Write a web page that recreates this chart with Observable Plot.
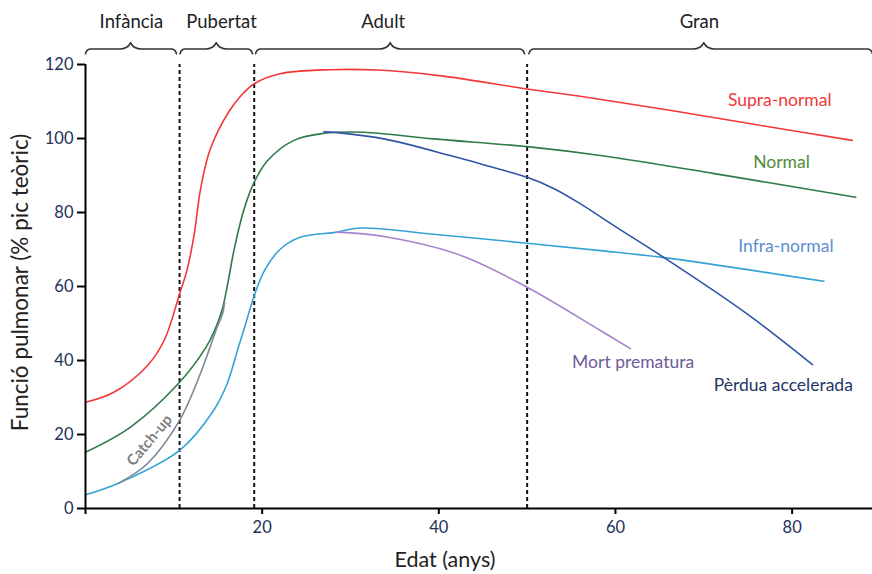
<!DOCTYPE html>
<html>
<head>
<meta charset="utf-8">
<script src="https://cdn.jsdelivr.net/npm/d3@7"></script>
<script src="https://cdn.jsdelivr.net/npm/@observablehq/plot@0.6"></script>
<style>
  html, body { margin: 0; padding: 0; background: #fff; }
  #chart svg { display: block; font-family: Lato, "Open Sans", sans-serif; }
</style>
</head>
<body>
<div id="chart"></div>
<script>
// ---- Data (age in years, lung function in % of theoretical peak) ----
const supraNormal = [[0,28.7],[3.2,31.4],[7,38.6],[8.9,45.4],[10.65,58],[11.5,64.5],[12.3,74],[13,86],[13.9,95.5],[15,102],[16.3,107.5],[17.5,111.3],[19.1,114.8],[22,117.5],[27.7,118.6],[33,118.5],[40,117],[50,113.4],[56,111.4],[67,107.3],[77,103.3],[86.8,99.5]];
const normal = [[0,15.2],[5.1,22],[10.65,34.1],[13.6,43.4],[14.6,48],[15.5,54],[16.2,62],[16.8,69.7],[17.9,80.5],[19.1,88.2],[20.6,94],[23.6,99.5],[27,101.4],[31.5,101.7],[39.4,99.9],[50,97.8],[58.3,95.4],[71.2,90.5],[87.2,84.1]];
const infraNormal = [[0,3.7],[3.8,6.9],[10.65,15.7],[14.5,26.5],[16,33.5],[17.2,42.7],[18.2,50.5],[19.1,57.5],[20.3,64.5],[22.1,70.2],[24.3,73.3],[28.5,74.7],[31,75.8],[40,74],[50,71.7],[58.3,69.7],[65.5,67.8],[83.6,61.4]];
const perduaAccelerada = [[27,101.8],[28.5,101.6],[33.8,99.9],[41.3,95.4],[47,91.6],[50,89.5],[53,86.5],[56,82.4],[60,76.2],[65.5,67.8],[74.9,52.6],[82.3,38.9]];
const mortPrematura = [[28.5,74.7],[33.8,73.5],[42.5,68.4],[50,59.8],[58.3,48.1],[61.7,43.2]];
const catchUp = [[3.8,6.9],[7,12.1],[10.65,23.8],[13,36.4],[14.9,49],[15.5,52.5],[15.75,55.8]];

const seriesNames  = ["Supra-normal","Normal","Infra-normal","Pèrdua accelerada","Mort prematura","Catch-up"];
const seriesColors = ["#f2383a","#2f7a49","#35a2d6","#2f55a6","#a684cc","#7b8794"];
const labelColors  = ["#f0383a","#4f8a3c","#5b8fd2","#1f3566","#6e5b99","#7f7f7f"];
const labelAt      = [[78.6,110.3],[78.8,93.6],[79.3,70.8],[79,33.2],[62,39.5],[7.25,18.4]];

const phases     = ["Infància","Pubertat","Adult","Gran"];
const phaseStart = [0, 10.7, 19.25, 50.2];
const phaseEnd   = [10.3, 18.9, 49.7, 89.1];
const phasePeak  = [5.1, 14.8, 34.5, 70];
const phaseLabelX = [5.2, 15.4, 33.7, 69.5];
const phaseLabelY = 131.4;
const boundaries = [10.65, 19.1, 50];

const xTicks = [0, 20, 40, 60, 80];
const yTicks = [0, 20, 40, 60, 80, 100, 120];

// ---- Build tables ----
const allSeries = [supraNormal, normal, infraNormal, perduaAccelerada, mortPrematura, catchUp];
const lineData = allSeries.flatMap((s, i) => s.map(([age, v]) => ({series: seriesNames[i], age, v})));
const labels = seriesNames.map((name, i) => ({name, x: labelAt[i][0], y: labelAt[i][1], color: labelColors[i]}));

// curly brace shape built from each phase span
const braceBase = 124.2, braceEnd = 122.9, bracePeak = 125.9;
const braceData = phases.flatMap((p, i) => {
  const a = phaseStart[i], b = phaseEnd[i], m = phasePeak[i];
  return [
    [a, braceEnd],[a+0.15, 123.7],[a+0.5, braceBase],[m-1.2, braceBase],[m-0.5, 124.6],[m-0.12, 125.4],[m, bracePeak],
    [m+0.12, 125.4],[m+0.5, 124.6],[m+1.2, braceBase],[b-0.5, braceBase],[b-0.15, 123.7],[b, braceEnd]
  ].map(([x, y]) => ({phase: p, x, y}));
});
const phaseLabels = phases.map((p, i) => ({p, x: phaseLabelX[i], y: phaseLabelY}));

const chart = Plot.plot({
  width: 872,
  height: 574,
  marginTop: 64,
  marginBottom: 66,
  marginLeft: 85,
  marginRight: 0,
  style: {fontFamily: "Lato, 'Open Sans', sans-serif", background: "#fff"},
  x: {domain: [0, 89.1]},
  y: {domain: [0, 120]},
  color: {domain: seriesNames, range: seriesColors},
  marks: [
    Plot.ruleX(boundaries, {y1: 0, y2: 120, stroke: "#111", strokeWidth: 2, strokeDasharray: "4,3"}),
    Plot.line(lineData, {x: "age", y: "v", z: "series", stroke: "series", strokeWidth: 1.6, curve: "catmull-rom"}),
    Plot.line(braceData, {x: "x", y: "y", z: "phase", stroke: "#333", strokeWidth: 1.6, curve: "monotone-x"}),
    Plot.text(phaseLabels, {x: "x", y: "y", text: "p", fontSize: 18.5, fill: "#222"}),
    Plot.text(labels.slice(0, 5), {x: "x", y: "y", text: "name", fill: "color", fontSize: 17.5}),
    Plot.text(labels.slice(5), {x: "x", y: "y", text: "name", fill: "color", fontSize: 15, fontWeight: "bold", rotate: -50}),
    Plot.axisX({ticks: xTicks, tickSize: 6, tickPadding: 7, fontSize: 16.5, stroke: "#000", strokeWidth: 2, fill: "#24305a", tickFormat: d => d === 0 ? "" : d, label: null}),
    Plot.axisY({ticks: yTicks, tickSize: 8, tickPadding: 4, fontSize: 16.5, stroke: "#000", strokeWidth: 2, fill: "#24305a", label: null}),
    Plot.ruleX([0], {y1: 0, y2: 120, stroke: "#000", strokeWidth: 2}),
    Plot.ruleY([0], {stroke: "#000", strokeWidth: 2}),
    Plot.text(["Funció pulmonar (% pic teòric)"], {frameAnchor: "left", textAnchor: "middle", lineAnchor: "middle", dx: -65, dy: -4, rotate: -90, fontSize: 22.5, fill: "#222"}),
    Plot.text(["Edat (anys)"], {frameAnchor: "bottom", textAnchor: "middle", lineAnchor: "middle", dx: -34, dy: 52, fontSize: 21.5, fill: "#222"})
  ]
});
document.getElementById("chart").appendChild(chart);
</script>
</body>
</html>
